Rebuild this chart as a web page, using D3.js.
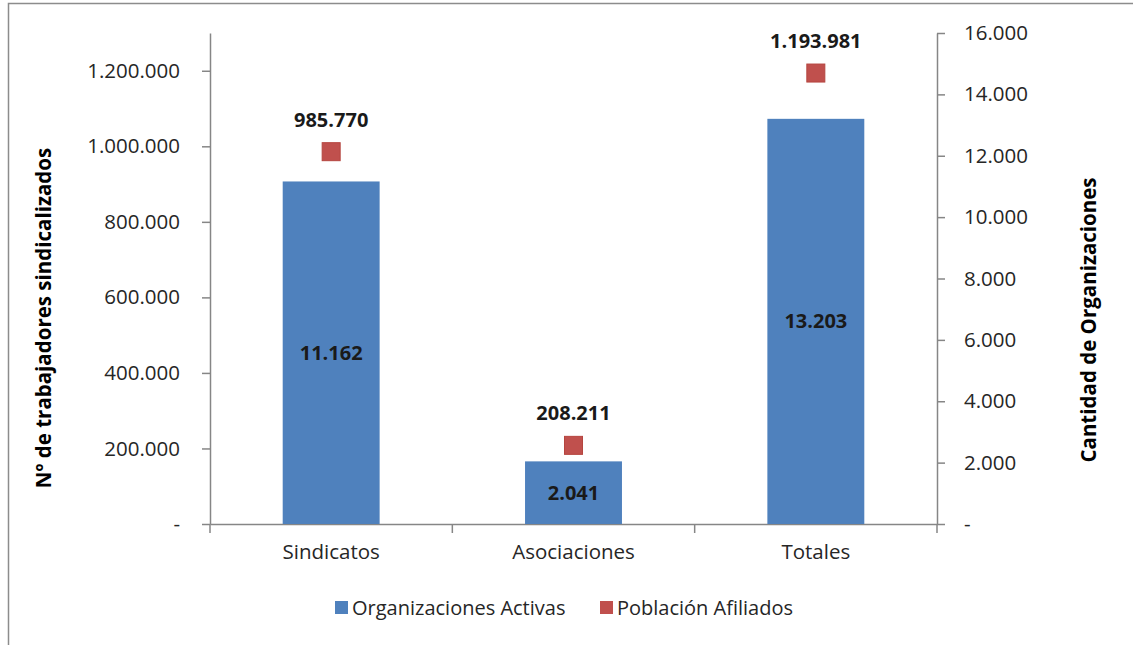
<!DOCTYPE html>
<html><head><meta charset="utf-8">
<script src="https://cdn.jsdelivr.net/npm/d3@7"></script>
<style>body{margin:0;background:#fff}svg{display:block}text{font-family:"Open Sans",sans-serif}</style>
</head><body><svg id="c" width="1133" height="645"></svg>
<script>
const categories = ["Sindicatos", "Asociaciones", "Totales"];
const organizaciones = [11162, 2041, 13203];
const afiliados = [985770, 208211, 1193981];
const leftTicks = [0, 200000, 400000, 600000, 800000, 1000000, 1200000];
const rightTicks = [0, 2000, 4000, 6000, 8000, 10000, 12000, 14000, 16000];
const seriesNames = ["Organizaciones Activas", "Población Afiliados"];

const svg = d3.select("#c");
const fmt = v => v === 0 ? "-" : d3.format(",")(v).replace(/,/g, ".");
const L = 210, R = 937, T = 33, B = 524;
const x = d3.scaleBand().domain(categories).range([L, R]).paddingInner(0).paddingOuter(0);
const yL = d3.scaleLinear().domain([0, 1300000]).range([B, T]);
const yR = d3.scaleLinear().domain([0, 16000]).range([B, T]);
const axisColor = "#868686";
const tickFs = 20.5;

svg.append("rect").attr("x", 8.5).attr("y", 3.5).attr("width", 1140).attr("height", 660)
  .attr("fill", "#fff").attr("stroke", "#8c8c8c").attr("stroke-width", 1.5);

// left axis
const gL = svg.append("g").attr("transform", `translate(${L},0)`)
  .call(d3.axisLeft(yL).tickValues(leftTicks).tickFormat(fmt).tickSize(8).tickSizeOuter(0));
// right axis
const gR = svg.append("g").attr("transform", `translate(${R},0)`)
  .call(d3.axisRight(yR).tickValues(rightTicks).tickFormat(fmt).tickSize(8).tickSizeOuter(0));
[gL, gR].forEach(g => {
  g.select(".domain").attr("stroke", axisColor).attr("stroke-width", 1.5);
  g.selectAll(".tick line").attr("stroke", axisColor).attr("stroke-width", 1.5);
  g.selectAll(".tick text").attr("font-size", tickFs).attr("fill", "#262626").attr("font-family", "Open Sans");
});
gL.selectAll(".tick text").attr("x", -30);
gR.selectAll(".tick text").attr("x", 27);

// bottom axis
const gB = svg.append("g").attr("transform", `translate(0,${B})`)
  .call(d3.axisBottom(x).tickSize(0).tickPadding(20));
gB.select(".domain").attr("stroke", axisColor).attr("stroke-width", 1.5);
gB.selectAll(".tick text").attr("font-size", tickFs).attr("fill", "#262626").attr("font-family", "Open Sans");
const bounds = categories.map(c => x(c)).concat([R]);
gB.selectAll(".sep").data(bounds).enter().append("line")
  .attr("x1", d => d).attr("x2", d => d).attr("y1", 0).attr("y2", 9)
  .attr("stroke", axisColor).attr("stroke-width", 1.5);

// bars
const bw = x.bandwidth() * 0.4;
svg.selectAll(".bar").data(categories).enter().append("rect")
  .attr("x", (d) => x(d) + x.bandwidth() / 2 - bw / 2)
  .attr("y", (d, i) => yR(organizaciones[i]))
  .attr("width", bw)
  .attr("height", (d, i) => B - yR(organizaciones[i]))
  .attr("fill", "#4F81BD");
svg.selectAll(".barlab").data(categories).enter().append("text")
  .attr("x", d => x(d) + x.bandwidth() / 2)
  .attr("y", (d, i) => (yR(organizaciones[i]) + B) / 2)
  .attr("dy", "0.35em").attr("text-anchor", "middle")
  .attr("font-size", 20).attr("font-weight", "bold").attr("fill", "#1a1a1a")
  .text((d, i) => fmt(organizaciones[i]));

// markers
const ms = 18;
svg.selectAll(".mk").data(categories).enter().append("rect")
  .attr("x", d => x(d) + x.bandwidth() / 2 - ms / 2)
  .attr("y", (d, i) => yL(afiliados[i]) - ms / 2)
  .attr("width", ms).attr("height", ms)
  .attr("fill", "#C0504D").attr("stroke", "#b5453f").attr("stroke-width", 1);
svg.selectAll(".mklab").data(categories).enter().append("text")
  .attr("x", d => x(d) + x.bandwidth() / 2)
  .attr("y", (d, i) => yL(afiliados[i]) - 32)
  .attr("dy", "0.35em").attr("text-anchor", "middle")
  .attr("font-size", 20).attr("font-weight", "bold").attr("fill", "#1a1a1a")
  .text((d, i) => fmt(afiliados[i]));

// axis titles
svg.append("text").attr("transform", "translate(44,318) rotate(-90)")
  .attr("text-anchor", "middle").attr("dy", "0.35em")
  .attr("font-size", 20.5).attr("font-weight", "bold").attr("fill", "#000")
  .text("Nº de trabajadores sindicalizados");
svg.append("text").attr("transform", "translate(1089,320) rotate(-90)")
  .attr("text-anchor", "middle").attr("dy", "0.35em")
  .attr("font-size", 20.5).attr("font-weight", "bold").attr("fill", "#000")
  .text("Cantidad de Organizaciones");

// legend
const legX = [335, 600];
const colors = ["#4F81BD", "#C0504D"];
seriesNames.forEach((n, i) => {
  svg.append("rect").attr("x", legX[i]).attr("y", 601).attr("width", 13).attr("height", 13).attr("fill", colors[i]);
  svg.append("text").attr("x", legX[i] + 17).attr("y", 608).attr("dy", "0.35em")
    .attr("font-size", 20).attr("fill", "#262626").text(n);
});
</script></body></html>
